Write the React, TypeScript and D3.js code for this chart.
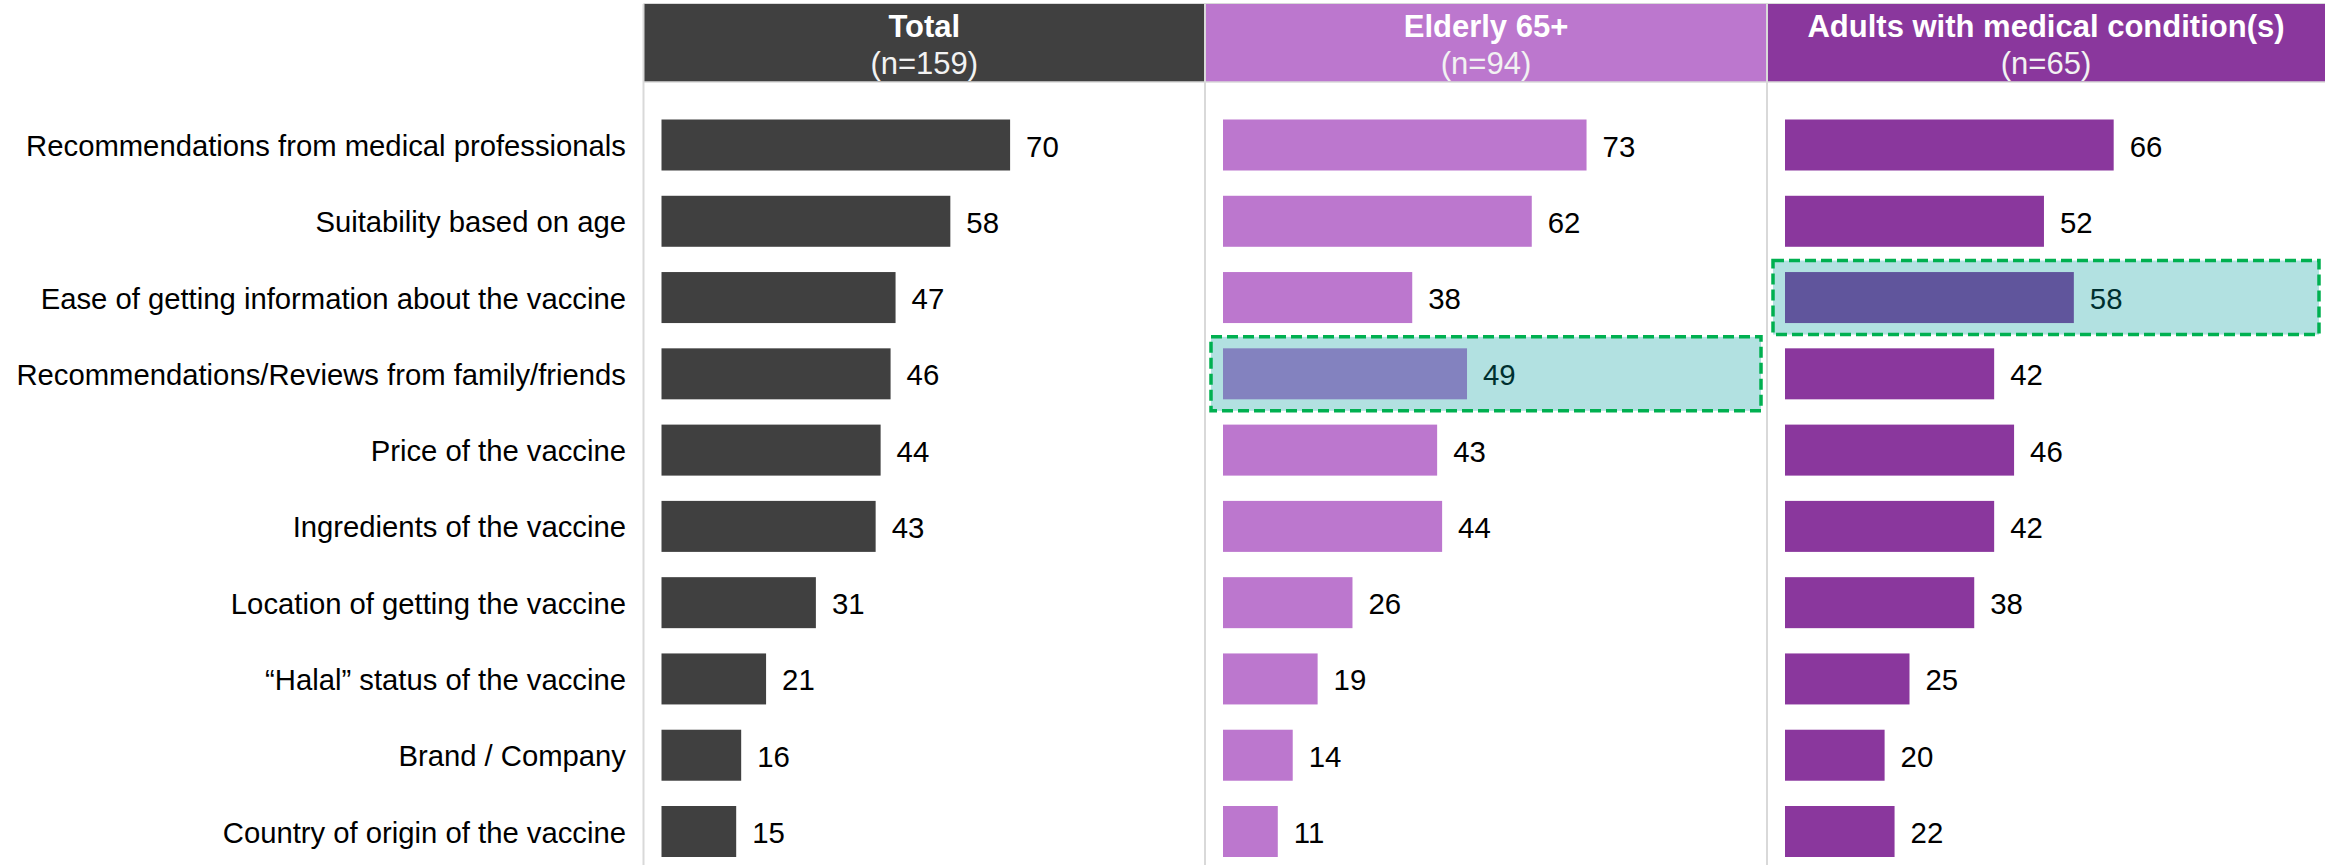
import React from "react";
import * as d3 from "d3";

const categories = [
  "Recommendations from medical professionals",
  "Suitability based on age",
  "Ease of getting information about the vaccine",
  "Recommendations/Reviews from family/friends",
  "Price of the vaccine",
  "Ingredients of the vaccine",
  "Location of getting the vaccine",
  "\u201CHalal\u201D status of the vaccine",
  "Brand / Company",
  "Country of origin of the vaccine",
];

const totalValues = [70, 58, 47, 46, 44, 43, 31, 21, 16, 15];
const elderlyValues = [73, 62, 38, 49, 43, 44, 26, 19, 14, 11];
const adultsValues = [66, 52, 58, 42, 46, 42, 38, 25, 20, 22];

const panelTitles = ["Total", "Elderly 65+", "Adults with medical condition(s)"];
const panelSubtitles = ["(n=159)", "(n=94)", "(n=65)"];
const panelColors = ["#404040", "#BC77CE", "#8A379D"];
const highlightIndex = [-1, 3, 2];

const W = 2325;
const H = 865;
const FONT = "'Liberation Sans', Arial, sans-serif";

export default function App() {
  const panelLefts = [643.5, 1205, 1767];
  const panelWidth = [561.5, 562, 558];
  const headerTop = 4;
  const headerBottom = 82;
  const barOffset = 18;
  const barH = 51;

  const x = d3.scaleLinear().domain([0, 100]).range([0, 498]);
  const y = d3.scalePoint<string>().domain(categories).range([145, 831.5]);
  const series = [totalValues, elderlyValues, adultsValues];

  return (
    <svg
      width={W}
      height={H}
      style={{ position: "absolute", left: 0, top: 0, display: "block", background: "#fff" }}
      fontFamily={FONT}
    >
      <rect x={0} y={0} width={W} height={H} fill="#fff" />
      <line x1={panelLefts[0]} x2={W} y1={headerTop} y2={headerTop} stroke="#D9D9D9" strokeWidth={2} />
      {categories.map((c) => (
        <text
          key={c}
          x={626}
          y={y(c)! + 1}
          textAnchor="end"
          dominantBaseline="central"
          fontSize={29.25}
          fill="#000"
        >
          {c}
        </text>
      ))}
      {series.map((vals, p) => {
        const left = panelLefts[p];
        const w = panelWidth[p];
        const hi = highlightIndex[p];
        return (
          <g key={p}>
            <rect x={left} y={headerTop} width={w} height={headerBottom - headerTop} fill={panelColors[p]} />
            <text x={left + w / 2} y={37} textAnchor="middle" fontSize={31} fontWeight="bold" fill="#fff">
              {panelTitles[p]}
            </text>
            <text x={left + w / 2} y={74} textAnchor="middle" fontSize={31} fill="#F2F2F2">
              {panelSubtitles[p]}
            </text>
            <line x1={left} x2={left} y1={headerTop} y2={H} stroke="#D9D9D9" strokeWidth={2} />
            <line x1={left} x2={left + w} y1={headerBottom} y2={headerBottom} stroke="#D9D9D9" strokeWidth={1.5} />
            {vals.map((v, i) => {
              const cy = y(categories[i])!;
              return (
                <g key={i}>
                  <rect
                    x={left + barOffset}
                    y={cy - barH / 2}
                    width={x(v)}
                    height={barH}
                    fill={panelColors[p]}
                  />
                  <text
                    x={left + barOffset + x(v) + 16}
                    y={cy + 1}
                    dominantBaseline="central"
                    fontSize={29.4}
                    fill="#000"
                  >
                    {v}
                  </text>
                </g>
              );
            })}
            {hi >= 0 && (
              <rect
                x={left + 6}
                y={y(categories[hi])! - 37}
                width={w - 12}
                height={74}
                fill="rgba(0,155,155,0.3)"
                stroke="#00B050"
                strokeWidth={3.5}
                strokeDasharray="11 5"
              />
            )}
          </g>
        );
      })}
    </svg>
  );
}
